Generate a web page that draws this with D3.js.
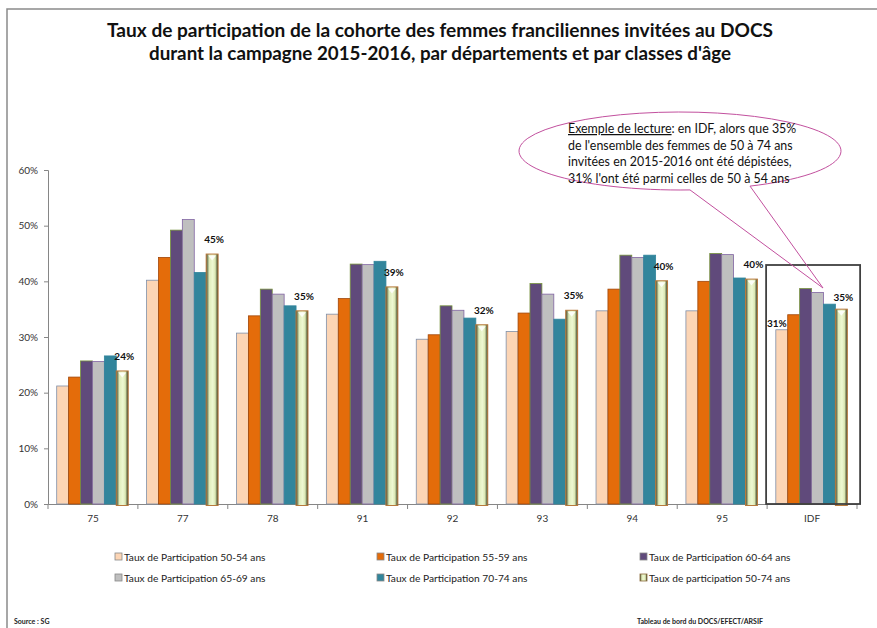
<!DOCTYPE html>
<html>
<head>
<meta charset="utf-8">
<script src="https://cdn.jsdelivr.net/npm/d3@7"></script>
<style>
  body { margin: 0; background: #fff; }
  svg { display: block; font-family: Lato, "Open Sans", sans-serif; }
</style>
</head>
<body>
<svg id="chart" width="877" height="628"></svg>
<script>
const departements = ['75', '77', '78', '91', '92', '93', '94', '95', 'IDF'];
const seriesNames = [
  'Taux de Participation 50-54 ans',
  'Taux de Participation 55-59 ans',
  'Taux de Participation 60-64 ans',
  'Taux de Participation 65-69 ans',
  'Taux de Participation 70-74 ans',
  'Taux de participation 50-74 ans'
];
const age5054 = [21.2, 40.2, 30.7, 34.1, 29.6, 31.0, 34.7, 34.7, 31.3];
const age5559 = [22.8, 44.3, 33.8, 36.9, 30.4, 34.3, 38.6, 40.0, 34.0];
const age6064 = [25.7, 49.2, 38.6, 43.1, 35.6, 39.6, 44.7, 45.0, 38.7];
const age6569 = [25.6, 51.1, 37.7, 43.0, 34.8, 37.7, 44.3, 44.8, 38.0];
const age7074 = [26.6, 41.6, 35.6, 43.6, 33.4, 33.2, 44.7, 40.6, 35.9];
const age5074 = [23.9, 44.9, 34.7, 39.0, 32.2, 34.8, 40.1, 40.4, 35.0];
const yTicks = [0, 10, 20, 30, 40, 50, 60];
const titleLines = [
  'Taux de participation de la cohorte des femmes franciliennes invitées au DOCS',
  "durant la campagne 2015-2016, par départements et par classes d'âge"
];
const noteLines = [
  "de l'ensemble des femmes de 50 à 74 ans",
  'invitées en 2015-2016 ont été dépistées,',
  "31% l'ont été parmi celles de 50 à 54 ans"
];

const seriesValues = [age5054, age5559, age6064, age6569, age7074, age5074];
const fills = ['#FCD5B5', '#E46C0A', '#604A7B', '#BFBFBF', '#31859C', 'url(#bevel)'];
const strokes = ['#7f8fa9', '#a0460a', '#77933c', '#8064a2', '#31859C', '#b8793c'];

const svg = d3.select('#chart');

// bevel gradient for the 50-74 series
const grad = svg.append('defs').append('linearGradient').attr('id', 'bevel')
  .attr('x1', 0).attr('x2', 1).attr('y1', 0).attr('y2', 0);
[['0%', '#45452f'], ['14%', '#8f9a70'], ['26%', '#dfecbb'], ['55%', '#eef8d2'],
 ['76%', '#dbe8b5'], ['88%', '#7f8960'], ['100%', '#3a3a28']].forEach(([o, c]) =>
  grad.append('stop').attr('offset', o).attr('stop-color', c));

// page frame
svg.append('path').attr('d', 'M7,628 V9 H877').attr('fill', 'none')
  .attr('stroke', '#8a8a8a').attr('stroke-width', 1.5);

// title
const titleWidths = [666, 582];
titleLines.forEach((t, i) => {
  svg.append('text').attr('x', 440).attr('y', 37 + i * 23)
    .attr('text-anchor', 'middle').attr('font-weight', 'bold').attr('font-size', 18.5)
    .attr('textLength', titleWidths[i]).attr('lengthAdjust', 'spacingAndGlyphs')
    .attr('fill', '#111').text(t);
});

const x0 = d3.scaleBand().domain(departements).range([48, 857]);
const x1 = d3.scaleBand().domain(d3.range(6)).range([8.7, 80.2]);
const y = d3.scaleLinear().domain([0, 60]).range([504, 170]);

// y axis
const yAxis = svg.append('g').attr('transform', 'translate(48,0)')
  .call(d3.axisLeft(y).tickValues(yTicks).tickSize(4).tickPadding(6).tickFormat(d => d + '%'));
yAxis.select('.domain').attr('stroke', '#868686');
yAxis.selectAll('.tick line').attr('stroke', '#868686');
yAxis.selectAll('.tick text').attr('font-size', 10).attr('fill', '#333')
  .attr('font-family', 'Lato, sans-serif');

// x axis
const xAxis = svg.append('g').attr('transform', 'translate(0,504)')
  .call(d3.axisBottom(x0).tickSize(0).tickPadding(11));
xAxis.select('.domain').attr('stroke', '#868686');
xAxis.selectAll('.tick text').attr('font-size', 10).attr('fill', '#333')
  .attr('font-family', 'Lato, sans-serif');
xAxis.selectAll('line.sep').data(departements.concat(['end'])).join('line').attr('class', 'sep')
  .attr('x1', (d, i) => i < departements.length ? x0(d) : x0.range()[1])
  .attr('x2', (d, i) => i < departements.length ? x0(d) : x0.range()[1])
  .attr('y1', 0).attr('y2', 5).attr('stroke', '#868686');

// bars
const groups = svg.append('g').selectAll('g').data(departements).join('g')
  .attr('transform', d => `translate(${x0(d)},0)`);
groups.selectAll('rect')
  .data((d, i) => seriesValues.map((s, k) => ({ k, v: s[i] })))
  .join('rect')
  .attr('x', d => x1(d.k))
  .attr('y', d => y(d.v))
  .attr('width', x1.bandwidth())
  .attr('height', d => y(0) - y(d.v) + (d.k === 5 ? 1.5 : 0))
  .attr('fill', d => fills[d.k])
  .attr('stroke', d => strokes[d.k])
  .attr('stroke-width', d => d.k === 5 ? 1 : 0.8);

// small bevel highlight at the top of the 50-74 bars
groups.append('path')
  .attr('d', (d, i) => {
    const xl = x1(5) + 2, xr = x1(5) + x1.bandwidth() - 2, yt = y(age5074[i]) + 1.5;
    return `M${xl},${yt} L${xr},${yt} L${(xl + xr) / 2},${yt + 5} Z`;
  })
  .attr('fill', '#ffffff').attr('opacity', 0.85);

// data labels for 50-74
groups.append('text')
  .attr('x', (d, i) => x1(5) + x1.bandwidth() / 2 + 2)
  .attr('y', (d, i) => y(age5074[i]) - (d === 'IDF' ? 8 : 11))
  .attr('text-anchor', 'middle').attr('font-size', 10).attr('font-weight', 'bold')
  .attr('fill', '#111').text((d, i) => Math.round(age5074[i]) + '%');

// label for IDF 50-54
const idf = departements.indexOf('IDF');
svg.append('text')
  .attr('x', x0('IDF') + x1(0) + 1).attr('y', y(age5054[idf]) - 3)
  .attr('text-anchor', 'middle').attr('font-size', 10).attr('font-weight', 'bold')
  .attr('fill', '#111').text(Math.round(age5054[idf]) + '%');

// IDF frame
svg.append('rect').attr('x', x0('IDF') - 1).attr('y', 265)
  .attr('width', 94).attr('height', y(0) - 265)
  .attr('fill', 'none').attr('stroke', '#404040').attr('stroke-width', 1.8);

// callout
const cx = 680, cy = 151, rx = 161, ry = 39;
const ey = xx => cy + ry * Math.sqrt(1 - ((xx - cx) / rx) ** 2);
const ax = 690, bx = 750;
svg.append('path')
  .attr('d', `M${bx},${ey(bx)} L823,288 L${ax},${ey(ax)} A${rx},${ry} 0 1 1 ${bx},${ey(bx)}`)
  .attr('fill', 'none').attr('stroke', '#c2509e').attr('stroke-width', 1);

const note = svg.append('g').attr('font-size', 12.4).attr('fill', '#111');
const first = note.append('text').attr('x', 568).attr('y', 133);
first.append('tspan').attr('text-decoration', 'underline').text('Exemple de lecture');
first.append('tspan').text(': en IDF, alors que 35%');
noteLines.forEach((t, i) => note.append('text').attr('x', 568).attr('y', 149.5 + i * 16.5).text(t));

// legend
const legendPos = [[115, 557], [377, 557], [640, 557], [115, 578], [377, 578], [640, 578]];
const legend = svg.append('g').selectAll('g').data(seriesNames).join('g')
  .attr('transform', (d, i) => `translate(${legendPos[i][0]},${legendPos[i][1]})`);
legend.append('rect').attr('x', 0).attr('y', -4).attr('width', 7).attr('height', 7)
  .attr('fill', (d, i) => fills[i]).attr('stroke', (d, i) => i === 5 ? '#8a6a3a' : '#888')
  .attr('stroke-width', 0.8);
legend.append('text').attr('x', 9).attr('y', 3.5).attr('font-size', 10.2).attr('fill', '#222')
  .text(d => d);

// footer
svg.append('text').attr('x', 14).attr('y', 624).attr('font-size', 7).attr('font-weight', 'bold')
  .attr('fill', '#222').text('Source : SG');
svg.append('text').attr('x', 637).attr('y', 624).attr('font-size', 7).attr('font-weight', 'bold')
  .attr('fill', '#222').text('Tableau de bord du DOCS/EFECT/ARSIF');
</script>
</body>
</html>
